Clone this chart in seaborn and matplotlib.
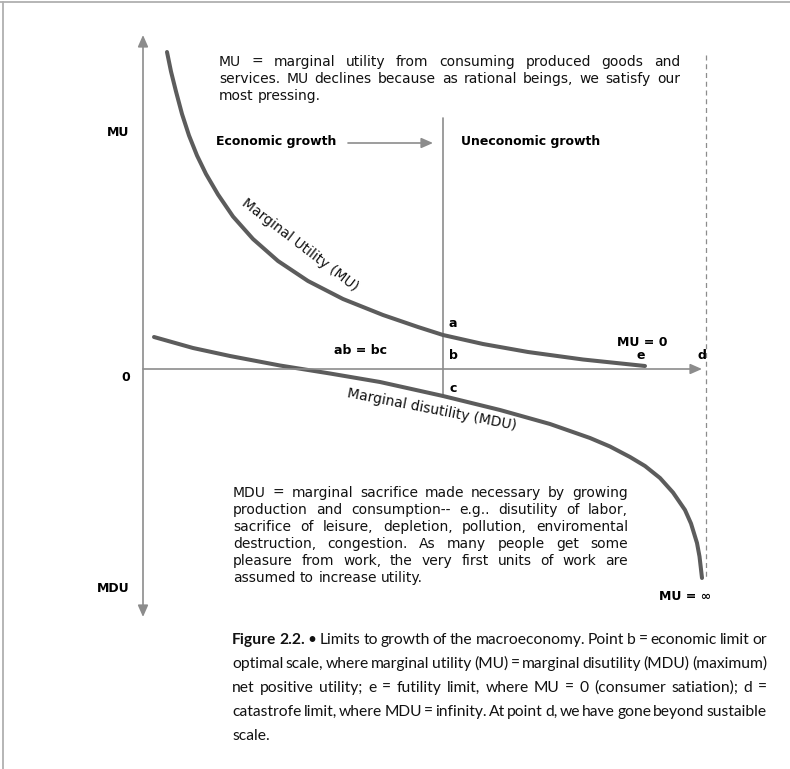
import matplotlib
matplotlib.use('Agg')
import matplotlib.pyplot as plt
import seaborn as sns

sns.set_theme(style='white')
plt.rcParams['font.family'] = ['DejaVu Sans']

# MU / MDU curves (x = scale of economy, y = utility)
mu_x = [0.48, 0.56, 0.66, 0.78, 0.92, 1.08, 1.26, 1.50, 1.80, 2.20,
        2.70, 3.30, 4.00, 4.80, 5.50, 6.00, 6.80, 7.70, 8.80, 10.04]
mu_y = [6.34, 5.95, 5.55, 5.10, 4.67, 4.27, 3.90, 3.49, 3.05, 2.60,
        2.16, 1.76, 1.40, 1.08, 0.84, 0.68, 0.50, 0.34, 0.19, 0.06]

mdu_x = [0.22, 1.00, 1.74, 2.74, 3.74, 4.74, 6.00, 7.14, 8.14, 8.94,
         9.34, 9.74, 10.04, 10.34, 10.60, 10.84, 10.96, 11.08, 11.13, 11.18]
mdu_y = [0.64, 0.42, 0.26, 0.07, -0.09, -0.26, -0.54, -0.82, -1.10, -1.38,
         -1.55, -1.76, -1.94, -2.18, -2.47, -2.82, -3.09, -3.48, -3.75, -4.18]

x_b = 6.0     # economic limit
x_d = 11.26   # catastrophe limit

top_note = ["MU = marginal utility from consuming produced goods and",
            "services. MU declines because as rational beings, we satisfy our",
            "most pressing."]
mdu_note = ["MDU = marginal sacrifice made necessary by growing",
            "production and consumption-- e.g.. disutility of labor,",
            "sacrifice of leisure, depletion, pollution, enviromental",
            "destruction, congestion. As many people get some",
            "pleasure from work, the very first units of work are",
            "assumed to increase utility."]
caption = ["Figure 2.2. \u2022 Limits to growth of the macroeconomy. Point b = economic limit or",
           "optimal scale, where marginal utility (MU) = marginal disutility (MDU) (maximum)",
           "net positive utility; e = futility limit, where MU = 0 (consumer satiation); d =",
           "catastrofe limit, where MDU = infinity. At point d, we have gone beyond sustaible",
           "scale."]

fig = plt.figure(figsize=(7.9, 7.69), dpi=100)
ax = fig.add_axes([0, 0, 1, 1])
ax.set_xlim(-143 / 50, (790 - 143) / 50)
ax.set_ylim((369 - 769) / 50, 369 / 50)
ax.axis('off')


def P(px, py):
    # pixel position of the picture -> data coords
    return (px - 143) / 50, (369 - py) / 50


curve_c = '#5c5c5c'
axis_c = '#8c8c8c'

# page frame (top and left edge)
ax.plot(*zip(P(0, 2.5), P(790, 2.5)), color='#b0b0b0', lw=1.3)
ax.plot(*zip(P(2.5, 2.5), P(2.5, 769)), color='#b0b0b0', lw=1.3)

# axes
head = '-|>,head_length=0.5,head_width=0.22'
ax.annotate('', xy=P(143, 35), xytext=P(143, 617),
            arrowprops=dict(arrowstyle='<|-|>,head_length=0.5,head_width=0.22', color=axis_c,
                            lw=1.2, shrinkA=0, shrinkB=0, mutation_scale=14))
ax.annotate('', xy=P(702, 369), xytext=P(143, 369),
            arrowprops=dict(arrowstyle=head, color=axis_c, lw=1.2, shrinkA=0, shrinkB=0, mutation_scale=14))
ax.annotate('', xy=P(433, 143), xytext=P(348, 143),
            arrowprops=dict(arrowstyle=head, color=axis_c, lw=1.2, shrinkA=0, shrinkB=0, mutation_scale=14))

ax.plot([x_b, x_b], [P(0, 118)[1], P(0, 397)[1]], color=axis_c, lw=1.2)
ax.plot([x_d, x_d], [P(0, 55)[1], P(0, 580)[1]], color=axis_c, lw=0.9, ls=(0, (4, 3)))

sns.lineplot(x=mu_x, y=mu_y, ax=ax, color=curve_c, lw=2.9, estimator=None, sort=False)
sns.lineplot(x=mdu_x, y=mdu_y, ax=ax, color=curve_c, lw=2.9, estimator=None, sort=False)

# labels
bold = dict(fontsize=9, fontweight='bold', color='black')
ax.text(*P(118, 133), 'MU', ha='center', va='center', **bold)
ax.text(*P(126, 378), '0', ha='center', va='center', **bold)
ax.text(*P(113, 588), 'MDU', ha='center', va='center', **bold)
ax.text(*P(216, 142), 'Economic growth', ha='left', va='center', **bold)
ax.text(*P(461, 142), 'Uneconomic growth', ha='left', va='center', **bold)
ax.text(*P(360, 351), 'ab = bc', ha='center', va='center', **bold)
ax.text(*P(642, 343), 'MU = 0', ha='center', va='center', **bold)
ax.text(*P(685, 597), 'MU = \u221e', ha='center', va='center', **bold)
for s, (px, py) in zip(['a', 'b', 'c'], [(453, 324), (453, 356), (453, 389)]):
    ax.text(*P(px, py), s, ha='center', va='center', **bold)
ax.text(*P(641, 356), 'e', ha='center', va='center', **bold)
ax.text(*P(702, 356), 'd', ha='center', va='center', **bold)

ax.text(*P(300, 245), 'Marginal Utility (MU)', rotation=-37.5, rotation_mode='anchor',
        ha='center', va='center', fontsize=10, color='#111111')
ax.text(*P(432, 410), 'Marginal disutility (MDU)', rotation=-11, rotation_mode='anchor',
        ha='center', va='center', fontsize=10, color='#111111')

renderer = fig.canvas.get_renderer()


def word_widths(words, size, fam, n_bold=0):
    ts = [ax.text(0, 0, w, fontsize=size, family=fam,
                  fontweight='bold' if j < n_bold else 'normal',
                  va='baseline', ha='left', color='#111111') for j, w in enumerate(words)]
    return ts, [t.get_window_extent(renderer).width for t in ts]


def space_width(size, fam):
    t1 = ax.text(0, 0, 'a a', fontsize=size, family=fam)
    t2 = ax.text(0, 0, 'aa', fontsize=size, family=fam)
    sp = t1.get_window_extent(renderer).width - t2.get_window_extent(renderer).width
    t1.remove()
    t2.remove()
    return sp


def fit_size(lines, span, size, fam, n_bold=0, min_gap=0.6):
    # shrink the font until every justified line fits the column
    while size > 6:
        sp = space_width(size, fam)
        ok = True
        for i, line in enumerate(lines[:-1]):
            ts, ws = word_widths(line.split(), size, fam, n_bold if i == 0 else 0)
            for t in ts:
                t.remove()
            if sum(ws) + min_gap * sp * (len(ws) - 1) > span:
                ok = False
        if ok:
            return size
        size -= 0.25
    return size


def para(lines, x0, x1, y0, dy, size, family=None, n_bold=0, min_gap=0.9):
    # justified block of text, last line left aligned
    fam = family or plt.rcParams['font.family']
    size = fit_size(lines, x1 - x0, size, fam, n_bold, min_gap)
    space = space_width(size, fam)
    for i, line in enumerate(lines):
        ts, ws = word_widths(line.split(), size, fam, n_bold if i == 0 else 0)
        if i == len(lines) - 1 or len(ws) == 1:
            gap = space
        else:
            gap = (x1 - x0 - sum(ws)) / (len(ws) - 1)
        x = x0
        for t, w in zip(ts, ws):
            t.set_position(P(x, y0 + i * dy))
            x += w + gap


para(top_note, 219, 680, 66, 17, 10)
para(mdu_note, 233, 628, 497, 17, 10)
para(caption, 232, 767, 644, 24, 12.5, family=['Lato', 'DejaVu Sans'], n_bold=2, min_gap=0.45)

fig.savefig('out.png', dpi=100)
